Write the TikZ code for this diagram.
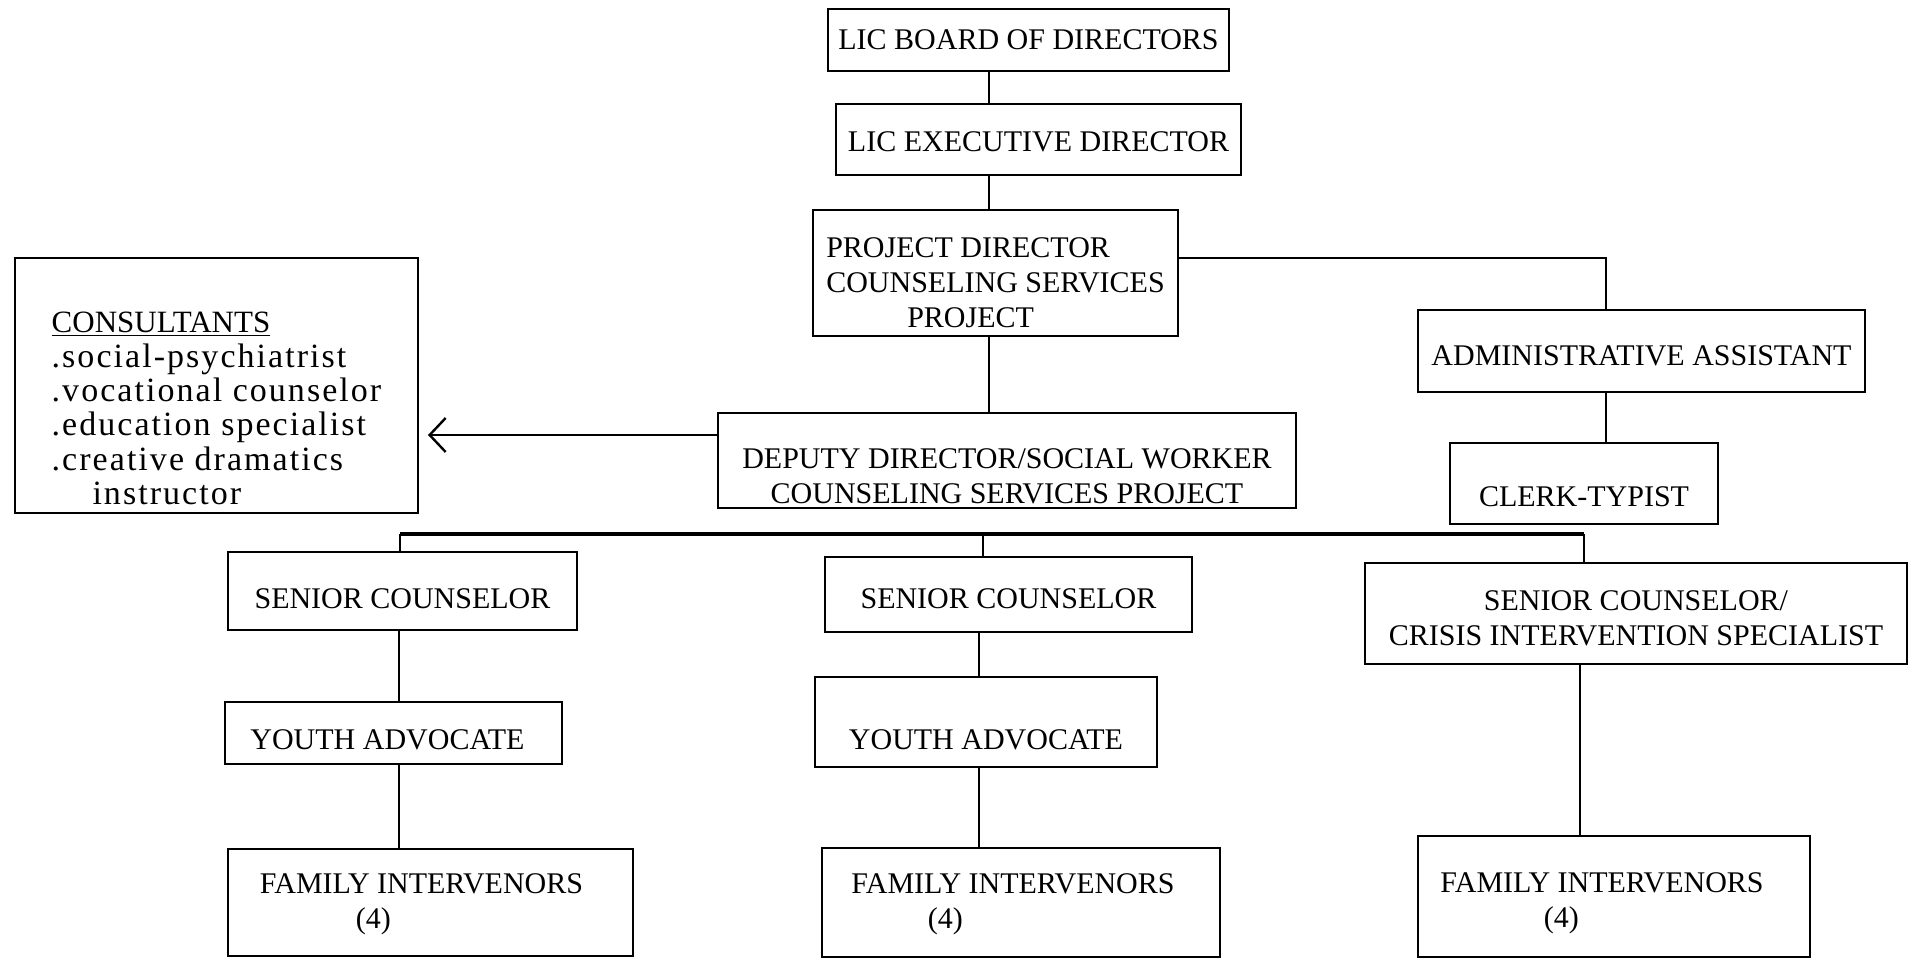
\documentclass[tikz,border=0pt]{standalone}
\usepackage{fontspec}
\setmainfont{Liberation Serif}
\newfontfamily\typefont[LetterSpace=6]{Liberation Serif}
\usetikzlibrary{arrows.meta}

\tikzset{
	box/.style={draw, line width=1pt, inner sep=0pt},
	txt/.style={align=center, inner sep=0pt, font=\fontsize{15}{17.5}\selectfont},
	link/.style={line width=1.2pt},
	bus/.style={line width=2pt},
}

\begin{document}
\begin{tikzpicture}[x=0.5pt, y=-0.5pt]
			%%%%% START %%%%%
			\useasboundingbox (0,0) rectangle (1924,964);
			
			% top of the chart
			\node[box, minimum width=200.5pt, minimum height=31pt, label={[txt]center:LIC BOARD OF DIRECTORS}] (board) at (1028.5, 40) {};
			\node[box, minimum width=202.5pt, minimum height=35.5pt, label={[txt, yshift=-1pt]center:LIC EXECUTIVE DIRECTOR}] (exec) at (1038.5, 139.5) {};
			\node[box, minimum width=182.5pt, minimum height=63pt, label={[txt, align=left, yshift=-5pt]center:PROJECT DIRECTOR\\COUNSELING SERVICES\\\hspace*{2.7em}PROJECT}] (pd) at (995.5, 273) {};
			\node[box, minimum width=289pt, minimum height=47.5pt, label={[txt, yshift=-8pt]center:DEPUTY DIRECTOR/SOCIAL WORKER\\COUNSELING SERVICES PROJECT}] (deputy) at (1007, 460.5) {};
			
			% office side
			\node[box, minimum width=223.5pt, minimum height=41pt, label={[txt, yshift=-2.5pt]center:ADMINISTRATIVE ASSISTANT}] (admin) at (1641.5, 351) {};
			\node[box, minimum width=134pt, minimum height=40.5pt, label={[txt, yshift=-6.5pt]center:CLERK-TYPIST}] (clerk) at (1584, 483.5) {};
			
			\node[box, minimum width=201.5pt, minimum height=127.5pt, label={[txt, align=left, yshift=-11.5pt, font=\typefont\fontsize{17}{17.2}\selectfont]center:{\rmfamily\fontsize{15.5}{17.2}\selectfont\underline{CONSULTANTS}}\\.social-psychiatrist\\.vocational counselor\\.education specialist\\.creative dramatics\\\hspace*{1.2em}instructor}] (consult) at (216.5, 385.5) {};
			
			% three teams
			\node[box, minimum width=174.5pt, minimum height=39pt, label={[txt, yshift=-4pt]center:SENIOR COUNSELOR}] (sc1) at (402.5, 591) {};
			\node[box, minimum width=183.5pt, minimum height=37.5pt, label={[txt, yshift=-2pt]center:SENIOR COUNSELOR}] (sc2) at (1008.5, 594.5) {};
			\node[box, minimum width=271pt, minimum height=50.5pt, label={[txt, yshift=-2.5pt]center:SENIOR COUNSELOR/\\CRISIS INTERVENTION SPECIALIST}] (sc3) at (1636, 613.5) {};
			
			\node[box, minimum width=168.5pt, minimum height=31pt, label={[txt, xshift=-3pt, yshift=-3.5pt]center:YOUTH ADVOCATE}] (ya1) at (393.5, 733) {};
			\node[box, minimum width=171pt, minimum height=45pt, label={[txt, yshift=-9pt]center:YOUTH ADVOCATE}] (ya2) at (986, 722) {};
			
			\node[box, minimum width=202.5pt, minimum height=53.5pt, label={[txt, align=left, xshift=-4.5pt, yshift=-1pt]center:FAMILY INTERVENORS\\\hspace*{3.2em}(4)}] (fi1) at (430.5, 902.5) {};
			\node[box, minimum width=199pt, minimum height=54.5pt, label={[txt, align=left, xshift=-4pt, yshift=-1pt]center:FAMILY INTERVENORS\\\hspace*{2.55em}(4)}] (fi2) at (1021, 902.5) {};
			\node[box, minimum width=196pt, minimum height=60.5pt, label={[txt, align=left, xshift=-6pt, yshift=-3.5pt]center:FAMILY INTERVENORS\\\hspace*{3.45em}(4)}] (fi3) at (1614, 896.5) {};
			
			% lines
			\coordinate (spine) at (989, 0);
			\draw[link] (board.south -| spine) -- (exec.north -| spine);
			\draw[link] (exec.south -| spine) -- (pd.north -| spine);
			\draw[link] (pd.south -| spine) -- (deputy.north -| spine);
			
			\coordinate (adm) at (1606, 258);
			\draw[link] (pd.east |- adm) -- (adm) -- (admin.north -| adm);
			\draw[link] (admin.south -| adm) -- (clerk.north -| adm);
			
			\coordinate (cons) at (0, 435);
			\draw[link, -{Straight Barb[length=8pt, width=17pt]}, shorten >=4.5pt] (deputy.west |- cons) -- (consult.east |- cons);
			
			\coordinate (busL) at (400, 534);
			\coordinate (busM) at (983, 534);
			\coordinate (busR) at (1584, 534);
			\draw[bus] (busL) -- (busR);
			\draw[link] (busL) -- (sc1.north -| busL);
			\draw[link] (busM) -- (sc2.north -| busM);
			\draw[link] (busR) -- (sc3.north -| busR);
			
			\coordinate (colA) at (399, 0);
			\coordinate (colB) at (979, 0);
			\coordinate (colC) at (1580, 0);
			\draw[link] (sc1.south -| colA) -- (ya1.north -| colA);
			\draw[link] (ya1.south -| colA) -- (fi1.north -| colA);
			\draw[link] (sc2.south -| colB) -- (ya2.north -| colB);
			\draw[link] (ya2.south -| colB) -- (fi2.north -| colB);
			\draw[link] (sc3.south -| colC) -- (fi3.north -| colC);
			
			%%%%% END %%%%%
\end{tikzpicture}
\end{document}
